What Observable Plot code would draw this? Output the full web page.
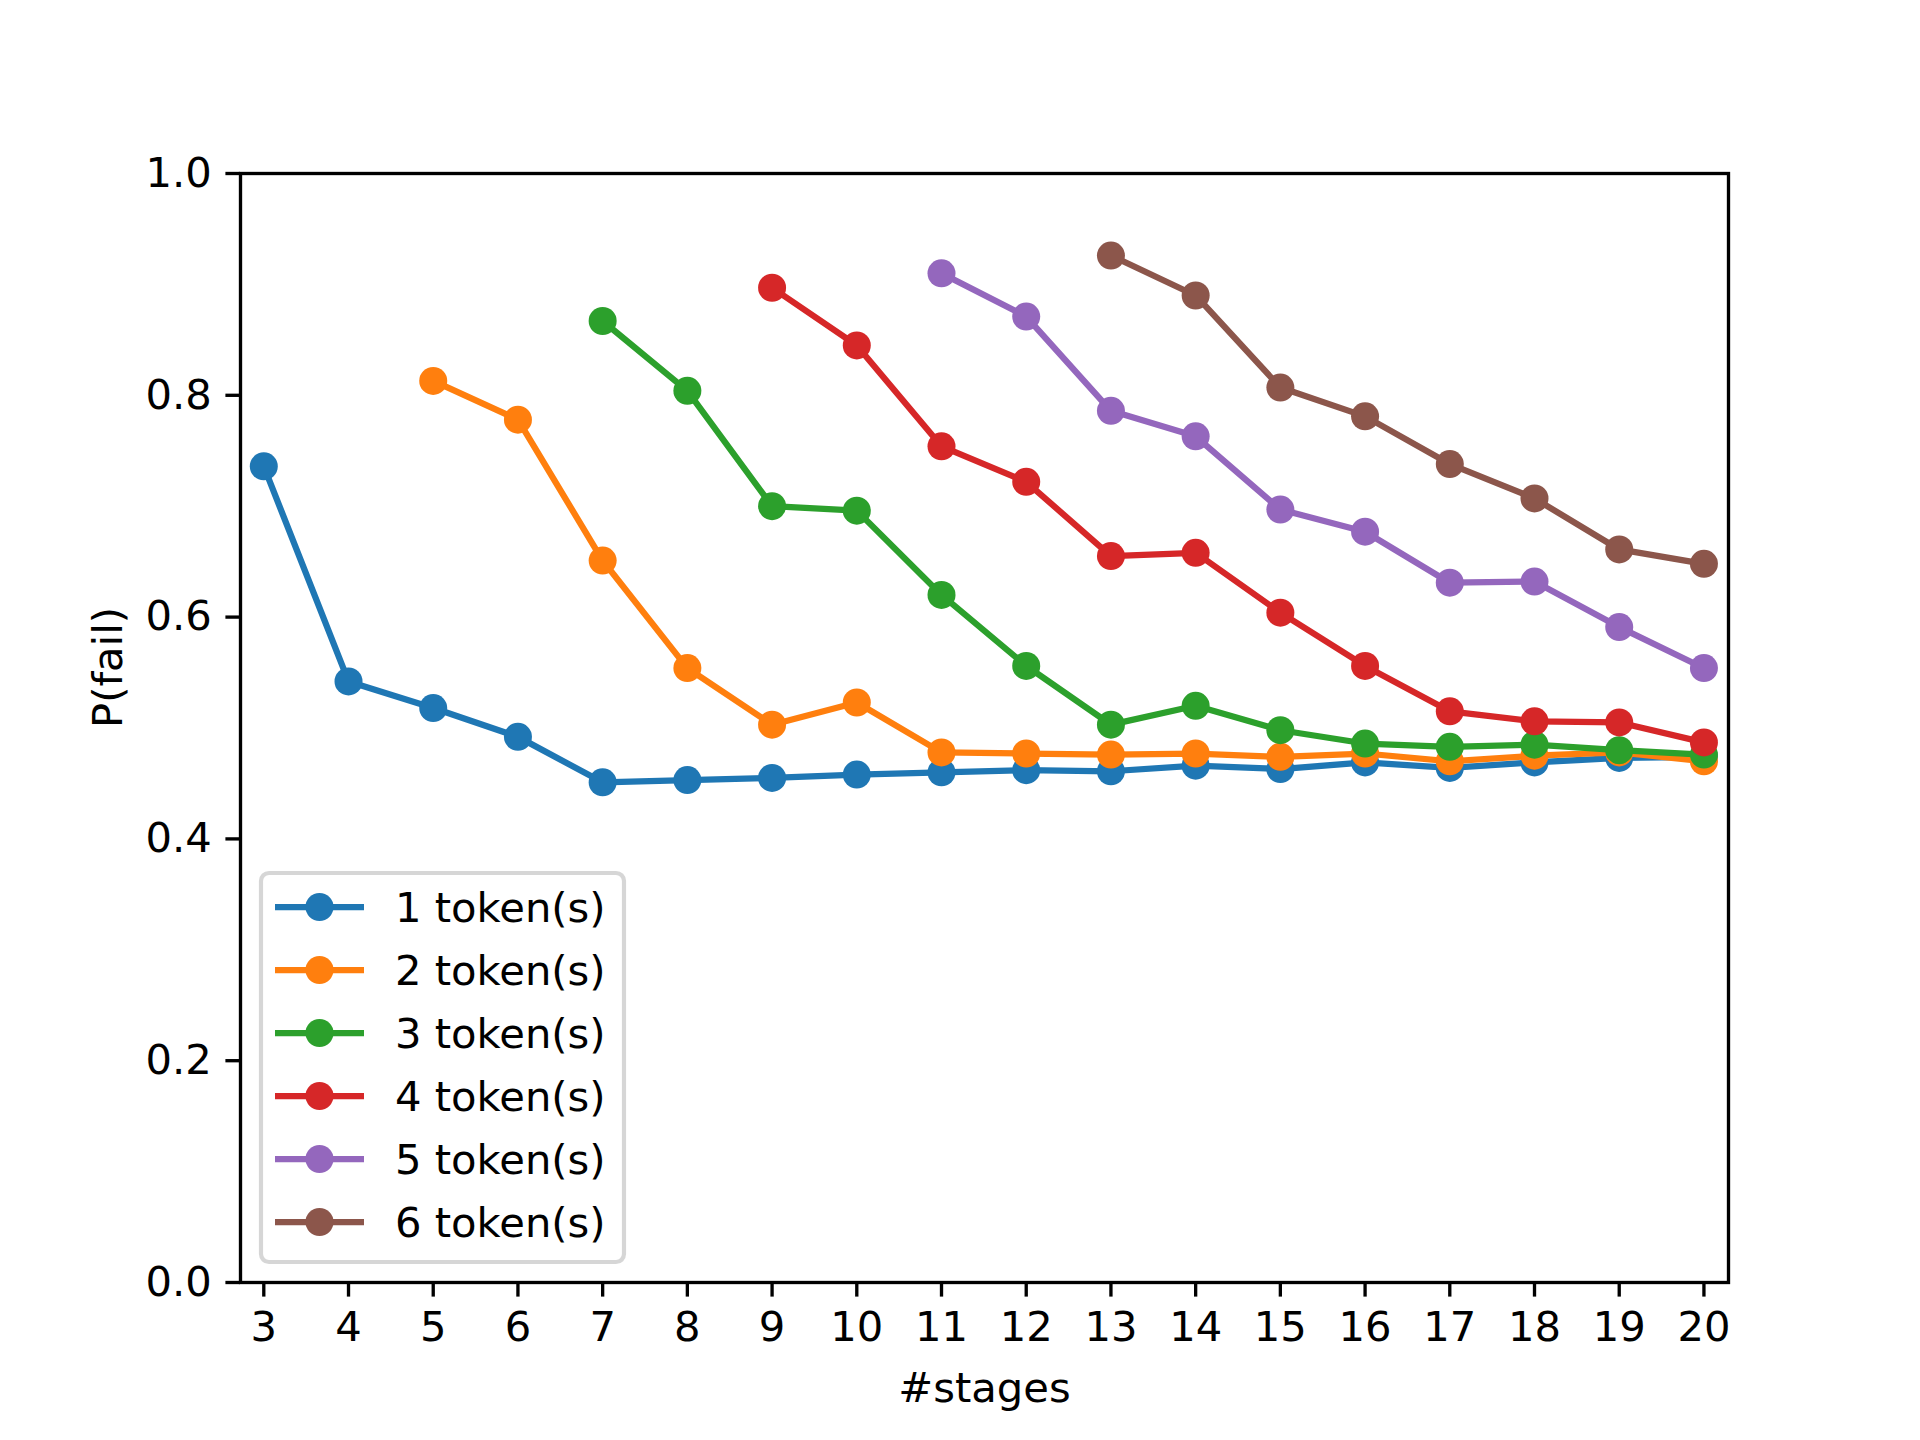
<!DOCTYPE html>
<html><head><meta charset="utf-8">
<script src="https://cdn.jsdelivr.net/npm/d3@7"></script>
<script src="https://cdn.jsdelivr.net/npm/@observablehq/plot@0.6"></script>
<style>body{margin:0;background:#fff}</style>
</head><body><div id="chart"></div>
<script>
// ---- data ----
const stages = [3,4,5,6,7,8,9,10,11,12,13,14,15,16,17,18,19,20];
const yTicks = [0,0.2,0.4,0.6,0.8,1.0];
const seriesLabels = ["1 token(s)","2 token(s)","3 token(s)","4 token(s)","5 token(s)","6 token(s)"];
const seriesColors = ["#1f77b4","#ff7f0e","#2ca02c","#d62728","#9467bd","#8c564b"];
const seriesStart = [3,5,7,9,11,13];
const tokens1 = [0.736,0.542,0.518,0.492,0.451,0.453,0.455,0.458,0.460,0.462,0.461,0.466,0.463,0.469,0.464,0.469,0.473,0.474];
const tokens2 = [0.813,0.778,0.651,0.554,0.503,0.523,0.478,0.477,0.476,0.477,0.474,0.477,0.470,0.475,0.478,0.470];
const tokens3 = [0.867,0.804,0.700,0.696,0.620,0.556,0.503,0.520,0.498,0.486,0.483,0.485,0.480,0.476];
const tokens4 = [0.897,0.845,0.754,0.722,0.655,0.658,0.604,0.556,0.515,0.506,0.505,0.487];
const tokens5 = [0.910,0.871,0.786,0.763,0.697,0.677,0.631,0.632,0.591,0.554];
const tokens6 = [0.926,0.890,0.807,0.781,0.738,0.707,0.661,0.648];

const seriesValues = [tokens1,tokens2,tokens3,tokens4,tokens5,tokens6];
const rows = seriesValues.map((vals,i)=>vals.map((v,j)=>({series:seriesLabels[i], stage:seriesStart[i]+j, p:v})));

const FS = 41.7;
const LW = 6.25;
const MR_R = 14;
const SPINE = 3.33;
const ML = 240, MR = 192, MT = 173, MB = 158;
const W = 1920, H = 1440;

const marks = [];
rows.forEach((r,i)=>{
  marks.push(Plot.line(r,{x:"stage",y:"p",stroke:seriesColors[i],strokeWidth:LW,strokeLinejoin:"round",strokeLinecap:"square"}));
  marks.push(Plot.dot(r,{x:"stage",y:"p",r:MR_R,fill:seriesColors[i],stroke:"none"}));
});

const svgEl = Plot.plot({
  width: W, height: H,
  marginLeft: ML, marginRight: MR, marginTop: MT, marginBottom: MB,
  style: {fontFamily:"DejaVu Sans", fontSize: FS+"px", background:"white", color:"black"},
  x: {type:"linear", domain:[2.725,20.29]},
  y: {type:"linear", domain:[0,1]},
  marks: [
    ...marks,
    Plot.axisX(stages,{tickSize:14.6, tickPadding:14.6, strokeWidth:SPINE, fontSize:FS, label:null, tickFormat:d=>String(d)}),
    Plot.axisY(yTicks,{tickSize:14.6, tickPadding:14, strokeWidth:SPINE, fontSize:FS, label:null, tickFormat:d3.format(".1f")}),
    Plot.frame({stroke:"black", strokeWidth:SPINE}),
    Plot.text(["#stages"],{frameAnchor:"bottom", dy:106, lineAnchor:"middle", fontSize:FS, fill:"black"}),
    Plot.text(["P(fail)"],{frameAnchor:"left", dx:-132, rotate:-90, lineAnchor:"middle", fontSize:FS, fill:"black"})
  ]
});
document.getElementById("chart").appendChild(svgEl);

// ---- legend (inside axes, lower left) ----
const svg = d3.select(svgEl);
const lg = svg.append("g").attr("font-family","DejaVu Sans").attr("font-size",FS).attr("text-anchor","start");
const bx = 261, by = 873, bw = 363, bh = 389;
lg.append("rect").attr("x",bx).attr("y",by).attr("width",bw).attr("height",bh).attr("rx",8)
  .attr("fill","white").attr("fill-opacity",0.8).attr("stroke","#cccccc").attr("stroke-opacity",0.8).attr("stroke-width",4.17);
seriesLabels.forEach((lab,i)=>{
  const cy = by + 34 + i*63;
  lg.append("line").attr("x1",bx+14).attr("x2",bx+103).attr("y1",cy).attr("y2",cy)
    .attr("stroke",seriesColors[i]).attr("stroke-width",LW);
  lg.append("circle").attr("cx",bx+58.5).attr("cy",cy).attr("r",MR_R).attr("fill",seriesColors[i]);
  lg.append("text").attr("x",bx+134).attr("y",cy).attr("dy","0.36em").attr("fill","black").text(lab);
});
</script>
</body></html>
